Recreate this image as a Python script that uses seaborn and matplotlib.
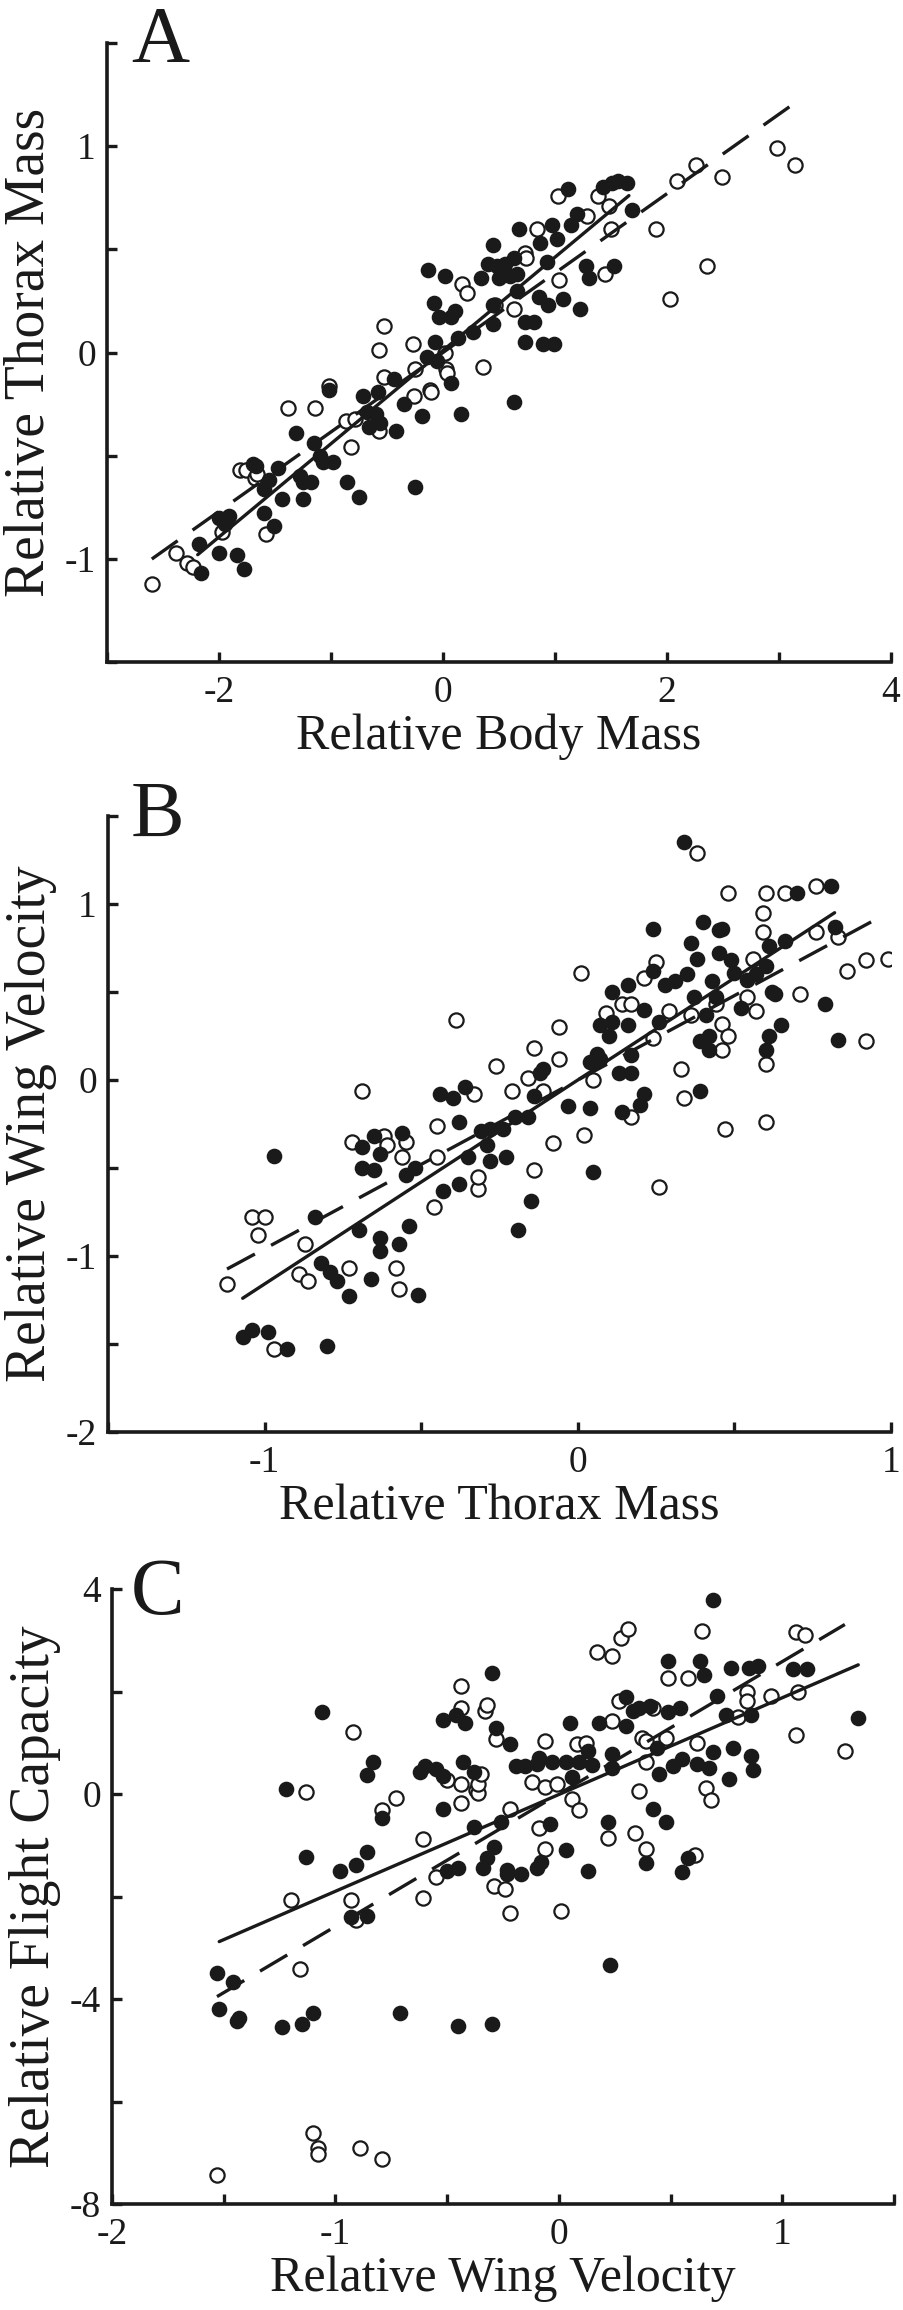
import numpy as np
import pandas as pd
import matplotlib
matplotlib.use("Agg")
import matplotlib.pyplot as plt
import seaborn as sns

# ---- Panel A: relative thorax mass vs relative body mass ----
a_filled = [
    (-2.16, -1.07), (-2.18, -0.93), (-2.00, -0.97), (-2.00, -0.80), (-1.91, -0.79), (-1.84, -0.98),
    (-1.78, -1.05), (-1.95, -0.83), (-1.70, -0.54), (-1.67, -0.55), (-1.60, -0.66), (-1.60, -0.78),
    (-1.51, -0.84), (-1.47, -0.56), (-1.44, -0.71), (-1.31, -0.39), (-1.28, -0.60), (-1.25, -0.63),
    (-1.25, -0.71), (-1.18, -0.63), (-1.15, -0.44), (-1.07, -0.53), (-0.98, -0.53), (-1.02, -0.18),
    (-0.86, -0.63), (-0.75, -0.70), (-0.71, -0.21), (-0.68, -0.29), (-0.66, -0.36), (-0.58, -0.19),
    (-0.56, -0.34), (-0.44, -0.13), (-0.42, -0.38), (-0.35, -0.25), (-0.25, -0.65), (-0.19, -0.31),
    (-0.14, -0.02), (-0.13, 0.40), (-0.08, 0.24), (-0.07, 0.05), (-0.04, 0.17), (0.02, 0.37),
    (0.07, 0.17), (0.07, -0.15), (0.11, 0.20), (0.13, 0.07), (0.16, -0.30), (0.27, 0.10),
    (0.34, 0.36), (0.40, 0.43), (0.45, 0.52), (0.45, 0.14), (0.45, 0.23), (0.48, 0.42),
    (0.50, 0.36), (0.55, 0.43), (0.60, 0.37), (0.63, 0.46), (0.63, -0.24), (0.66, 0.30),
    (0.66, 0.38), (0.68, 0.60), (0.73, 0.05), (0.73, 0.15), (0.81, 0.15), (0.86, 0.27),
    (0.87, 0.53), (0.89, 0.04), (0.93, 0.44), (0.94, 0.23), (0.97, 0.62), (0.99, 0.04),
    (1.02, 0.55), (1.07, 0.26), (1.12, 0.79), (1.14, 0.62), (1.20, 0.67), (1.22, 0.21),
    (1.28, 0.42), (1.30, 0.36), (1.43, 0.80), (1.51, 0.82), (1.53, 0.42), (1.56, 0.83),
    (1.64, 0.82), (1.69, 0.69), (-0.05, -0.04), (-1.55, -0.62), (-1.10, -0.50), (-0.60, -0.30),
]
a_open = [
    (-2.60, -1.12), (-2.38, -0.97), (-2.29, -1.02), (-2.23, -1.04), (-1.97, -0.87), (-1.81, -0.57),
    (-1.76, -0.57), (-1.68, -0.61), (-1.66, -0.59), (-1.58, -0.88), (-1.38, -0.27), (-1.14, -0.27),
    (-1.02, -0.16), (-0.87, -0.33), (-0.82, -0.46), (-0.79, -0.32), (-0.57, -0.38), (-0.57, 0.01),
    (-0.53, -0.12), (-0.53, 0.13), (-0.27, 0.04), (-0.25, -0.08), (-0.26, -0.21), (-0.12, -0.18),
    (-0.11, -0.19), (0.02, 0.00), (0.03, -0.08), (0.04, -0.10), (0.17, 0.33), (0.21, 0.29),
    (0.36, -0.07), (0.46, 0.23), (0.63, 0.21), (0.73, 0.48), (0.74, 0.46), (0.84, 0.60),
    (1.03, 0.76), (1.04, 0.35), (1.29, 0.66), (1.38, 0.76), (1.45, 0.38), (1.48, 0.71),
    (1.50, 0.60), (1.90, 0.60), (2.03, 0.26), (2.09, 0.83), (2.26, 0.91), (2.36, 0.42),
    (2.49, 0.85), (2.98, 0.99), (3.14, 0.91),
]
a_solid_span, a_solid_fit = [-2.19, 1.66], (0.452, 0.01)    # slope, intercept
a_dashed_span, a_dashed_fit = [-2.60, 3.11], (0.385, 0.00)

# ---- Panel B: relative wing velocity vs relative thorax mass ----
b_filled = [
    (-1.07, -1.46), (-1.04, -1.42), (-0.99, -1.43), (-0.93, -1.53), (-0.97, -0.43), (-0.84, -0.78),
    (-0.82, -1.04), (-0.80, -1.51), (-0.79, -1.09), (-0.77, -1.14), (-0.73, -1.23), (-0.70, -0.85),
    (-0.69, -0.50), (-0.69, -0.38), (-0.65, -0.51), (-0.65, -0.32), (-0.66, -1.13), (-0.63, -0.90),
    (-0.63, -0.97), (-0.63, -0.42), (-0.57, -0.93), (-0.56, -0.30), (-0.55, -0.54), (-0.54, -0.83),
    (-0.52, -0.50), (-0.51, -1.22), (-0.44, -0.08), (-0.43, -0.63), (-0.40, -0.10), (-0.38, -0.24),
    (-0.38, -0.59), (-0.36, -0.04), (-0.35, -0.44), (-0.31, -0.29), (-0.29, -0.37), (-0.28, -0.46),
    (-0.28, -0.28), (-0.24, -0.28), (-0.23, -0.44), (-0.20, -0.21), (-0.19, -0.85), (-0.16, -0.21),
    (-0.15, -0.69), (-0.14, -0.09), (-0.12, 0.04), (-0.11, 0.06), (-0.03, -0.15), (0.04, -0.16),
    (0.05, -0.52), (0.04, 0.10), (0.06, 0.15), (0.07, 0.12), (0.07, 0.31), (0.10, 0.25),
    (0.11, 0.50), (0.11, 0.33), (0.13, 0.04), (0.14, -0.18), (0.16, 0.54), (0.16, 0.31),
    (0.17, 0.14), (0.17, 0.04), (0.20, -0.14), (0.21, -0.08), (0.21, 0.40), (0.24, 0.62),
    (0.24, 0.86), (0.26, 0.33), (0.28, 0.54), (0.31, 0.56), (0.34, 1.35), (0.35, 0.60),
    (0.36, 0.78), (0.37, 0.47), (0.38, 0.69), (0.39, -0.06), (0.39, 0.22), (0.40, 0.90),
    (0.41, 0.37), (0.42, 0.25), (0.42, 0.17), (0.43, 0.56), (0.44, 0.47), (0.45, 0.85),
    (0.46, 0.86), (0.45, 0.72), (0.49, 0.68), (0.50, 0.61), (0.52, 0.41), (0.54, 0.57),
    (0.57, 0.60), (0.60, 0.65), (0.60, 0.17), (0.61, 0.25), (0.61, 0.76), (0.62, 0.50),
    (0.63, 0.49), (0.65, 0.31), (0.66, 0.79), (0.70, 1.06), (0.79, 0.43), (0.81, 1.10),
    (0.82, 0.87), (0.83, 0.23),
]
b_open = [
    (-1.12, -1.16), (-1.04, -0.78), (-1.00, -0.78), (-1.02, -0.88), (-0.97, -1.53), (-0.89, -1.10),
    (-0.87, -0.93), (-0.86, -1.14), (-0.73, -1.07), (-0.72, -0.35), (-0.69, -0.06), (-0.62, -0.32),
    (-0.61, -0.37), (-0.58, -1.07), (-0.57, -1.19), (-0.56, -0.44), (-0.55, -0.35), (-0.46, -0.72),
    (-0.45, -0.26), (-0.45, -0.44), (-0.39, 0.34), (-0.33, -0.08), (-0.32, -0.62), (-0.32, -0.55),
    (-0.26, 0.08), (-0.21, -0.06), (-0.16, 0.01), (-0.14, -0.51), (-0.14, 0.18), (-0.11, -0.06),
    (-0.08, -0.36), (-0.06, 0.30), (-0.06, 0.12), (0.01, 0.61), (0.02, -0.31), (0.05, 0.00),
    (0.09, 0.38), (0.14, 0.43), (0.17, 0.43), (0.17, -0.21), (0.21, 0.58), (0.24, 0.24),
    (0.25, 0.67), (0.26, -0.61), (0.29, 0.39), (0.33, 0.06), (0.34, -0.10), (0.36, 0.37),
    (0.38, 1.29), (0.44, 0.43), (0.46, 0.32), (0.46, 0.17), (0.47, -0.28), (0.48, 0.25),
    (0.48, 1.06), (0.54, 0.47), (0.56, 0.69), (0.57, 0.39), (0.59, 0.95), (0.59, 0.84),
    (0.60, 1.06), (0.60, -0.24), (0.60, 0.09), (0.66, 1.06), (0.71, 0.49), (0.76, 0.84),
    (0.76, 1.10), (0.83, 0.81), (0.86, 0.62), (0.92, 0.68), (0.92, 0.22), (0.99, 0.69),
]
b_solid_span, b_solid_fit = [-1.07, 0.82], (1.159, 0.00)
b_dashed_span, b_dashed_fit = [-1.12, 0.94], (0.959, 0.00)

# ---- Panel C: relative flight capacity vs relative wing velocity ----
c_filled = [
    (-1.53, -3.50), (-1.52, -4.19), (-1.46, -3.67), (-1.44, -4.43), (-1.43, -4.38), (-1.24, -4.55),
    (-1.22, 0.10), (-1.15, -4.48), (-1.13, -1.22), (-1.10, -4.27), (-1.06, 1.60), (-0.98, -1.50),
    (-0.93, -2.40), (-0.91, -1.38), (-0.86, -1.14), (-0.86, -2.38), (-0.86, 0.38), (-0.83, 0.62),
    (-0.79, -0.46), (-0.71, -4.27), (-0.62, 0.43), (-0.60, 0.55), (-0.55, 0.48), (-0.52, 0.36),
    (-0.52, 1.45), (-0.52, -0.30), (-0.50, -1.50), (-0.45, -1.45), (-0.46, 1.54), (-0.45, -4.52),
    (-0.43, 0.62), (-0.42, 1.38), (-0.38, -0.65), (-0.38, 0.43), (-0.34, -1.45), (-0.32, -1.24),
    (-0.30, 2.36), (-0.30, -4.48), (-0.29, -1.03), (-0.28, 1.29), (-0.26, -0.55), (-0.23, -1.48),
    (-0.23, -1.57), (-0.22, 0.97), (-0.19, 0.55), (-0.17, -1.57), (-0.15, 0.55), (-0.10, -1.45),
    (-0.10, 0.59), (-0.09, 0.71), (-0.08, -1.33), (-0.04, -0.59), (-0.03, 0.62), (0.03, 0.62),
    (0.03, -1.10), (0.05, 1.38), (0.06, 0.33), (0.09, 0.62), (0.13, -1.50), (0.13, 0.84),
    (0.15, 0.57), (0.18, 1.38), (0.22, -0.55), (0.23, -3.33), (0.24, 0.78), (0.24, 0.50),
    (0.30, 1.33), (0.30, 1.90), (0.33, 1.62), (0.36, 1.67), (0.39, -1.35), (0.41, 1.71),
    (0.42, -0.30), (0.44, 0.90), (0.45, 0.40), (0.48, -0.55), (0.49, 2.59), (0.49, 1.60),
    (0.51, 0.55), (0.54, 1.67), (0.55, 0.69), (0.55, -1.52), (0.58, -1.24), (0.63, 2.59),
    (0.62, 0.59), (0.65, 2.33), (0.67, 0.50), (0.69, 3.79), (0.69, 0.81), (0.71, 1.92),
    (0.75, 1.54), (0.76, 0.30), (0.77, 2.46), (0.78, 0.90), (0.85, 2.46), (0.86, 1.54),
    (0.86, 0.74), (0.87, 0.46), (0.89, 2.50), (1.05, 2.43), (1.11, 2.43), (1.34, 1.48),
]
c_open = [
    (-1.53, -7.43), (-1.20, -2.07), (-1.16, -3.41), (-1.13, 0.03), (-1.10, -6.62), (-1.08, -6.90),
    (-1.08, -7.03), (-0.92, 1.21), (-0.93, -2.07), (-0.91, -2.46), (-0.89, -6.90), (-0.79, -0.31),
    (-0.79, -7.12), (-0.73, -0.08), (-0.61, -2.03), (-0.61, -0.88), (-0.55, -1.62), (-0.50, 0.27),
    (-0.44, -0.17), (-0.44, 2.11), (-0.44, 0.19), (-0.44, 1.67), (-0.37, 0.08), (-0.36, 0.02),
    (-0.36, 0.19), (-0.35, 0.40), (-0.33, 1.62), (-0.32, 1.74), (-0.28, 1.07), (-0.29, -1.79),
    (-0.24, -1.86), (-0.22, -0.30), (-0.22, -2.33), (-0.12, 0.24), (-0.09, -0.67), (-0.06, -1.07),
    (-0.06, 1.03), (-0.06, 0.14), (-0.01, 0.19), (0.01, -2.29), (0.06, -0.10), (0.09, -0.31),
    (0.08, 0.97), (0.12, 1.00), (0.17, 2.78), (0.22, -0.86), (0.24, 2.70), (0.24, 1.43),
    (0.27, 1.81), (0.28, 3.05), (0.31, 3.21), (0.34, -0.76), (0.36, 0.05), (0.37, 1.10),
    (0.39, 1.03), (0.39, -1.07), (0.39, 0.62), (0.42, 1.67), (0.48, 1.10), (0.49, 2.26),
    (0.58, 2.27), (0.61, -1.19), (0.62, 1.00), (0.64, 3.19), (0.66, 0.11), (0.68, -0.11),
    (0.80, 1.50), (0.84, 2.00), (0.84, 1.81), (0.95, 1.92), (1.06, 3.16), (1.07, 2.00),
    (1.06, 1.16), (1.10, 3.11), (1.28, 0.84),
]
c_solid_span, c_solid_fit = [-1.52, 1.34], (1.888, -0.01)
c_dashed_span, c_dashed_fit = [-1.53, 1.28], (2.584, 0.00)

# axis setup per panel
x_labels = ["Relative Body Mass", "Relative Thorax Mass", "Relative Wing Velocity"]
y_labels = ["Relative Thorax Mass", "Relative Wing Velocity", "Relative Flight Capacity"]
panel_letters = ["A", "B", "C"]


def draw_panel(ax, filled, opened, solid, dashed):
    df_f = pd.DataFrame(filled, columns=["x", "y"])
    df_o = pd.DataFrame(opened, columns=["x", "y"])
    sns.scatterplot(data=df_o, x="x", y="y", ax=ax, s=105, facecolor="white",
                    edgecolor="#1a1a1a", linewidth=1.6, zorder=2)
    sns.scatterplot(data=df_f, x="x", y="y", ax=ax, s=105, color="#1a1a1a",
                    edgecolor="#1a1a1a", linewidth=1.0, zorder=2)
    for (span, (slope, icpt)), ls in [(solid, "-"), (dashed, (0, (9.5, 5.5)))]:
        xs = np.array(span)
        sns.lineplot(x=xs, y=icpt + slope * xs, ax=ax, color="#1a1a1a",
                     linewidth=2.4, linestyle=ls, zorder=3)


def style_axes(ax, xlim, ylim, xmaj, xmin, ymaj, ymin, xlab, ylab):
    ax.set_xlim(*xlim)
    ax.set_ylim(*ylim)
    ax.set_xticks(xmaj)
    ax.set_xticklabels([f"{v:g}" for v in xmaj])
    ax.set_xticks(xmin, minor=True)
    ax.set_yticks(ymaj)
    ax.set_yticklabels([f"{v:g}" for v in ymaj])
    ax.set_yticks(ymin, minor=True)
    ax.tick_params(which="both", direction="in", length=7, width=2.4,
                   color="#1a1a1a", labelsize=27, labelcolor="#1a1a1a")
    ax.tick_params(axis="x", which="both", pad=10)
    ax.tick_params(axis="y", which="both", pad=8)
    sns.despine(ax=ax)
    for side in ["left", "bottom"]:
        ax.spines[side].set_linewidth(2.6)
        ax.spines[side].set_color("#1a1a1a")
    ax.set_xlabel(xlab, fontsize=36, color="#1a1a1a", labelpad=2)
    ax.set_ylabel(ylab, fontsize=40, color="#1a1a1a", labelpad=6)


def main():
    sns.set_style("ticks")
    plt.rcParams["font.family"] = ["Liberation Serif", "DejaVu Serif"]
    plt.rcParams["axes.unicode_minus"] = False

    W, H = 904, 2310
    fig = plt.figure(figsize=(W / 100, H / 100), dpi=100)
    fig.patch.set_facecolor("white")

    boxes = [(107, 43, 891, 662), (108, 816, 891, 1432), (112, 1589, 894, 2204)]
    axes = [fig.add_axes([l / W, 1 - b / H, (r - l) / W, (b - t) / H]) for l, t, r, b in boxes]

    draw_panel(axes[0], a_filled, a_open, (a_solid_span, a_solid_fit), (a_dashed_span, a_dashed_fit))
    style_axes(axes[0], (-3, 4), (-1.5, 1.5), [-2, 0, 2, 4], [-3, -1, 1, 3],
               [-1, 0, 1], [-1.5, -0.5, 0.5, 1.5], x_labels[0], y_labels[0])

    draw_panel(axes[1], b_filled, b_open, (b_solid_span, b_solid_fit), (b_dashed_span, b_dashed_fit))
    style_axes(axes[1], (-1.5, 1), (-2, 1.5), [-1, 0, 1], [-1.5, -0.5, 0.5],
               [-2, -1, 0, 1], [-1.5, -0.5, 0.5, 1.5], x_labels[1], y_labels[1])

    draw_panel(axes[2], c_filled, c_open, (c_solid_span, c_solid_fit), (c_dashed_span, c_dashed_fit))
    style_axes(axes[2], (-2, 1.5), (-8, 4), [-2, -1, 0, 1], [-1.5, -0.5, 0.5, 1.5],
               [-8, -4, 0, 4], [-6, -2, 2], x_labels[2], y_labels[2])

    # panel letters, baseline positions in pixels from the top
    letter_baselines = [62, 837, 1614]
    for base, letter in zip(letter_baselines, panel_letters):
        fig.text(131 / W, 1 - base / H, letter, fontsize=58, color="#1a1a1a",
                 ha="left", va="baseline")

    fig.savefig("out.png", dpi=100, facecolor="white")
    plt.close(fig)


if __name__ == "__main__":
    main()
